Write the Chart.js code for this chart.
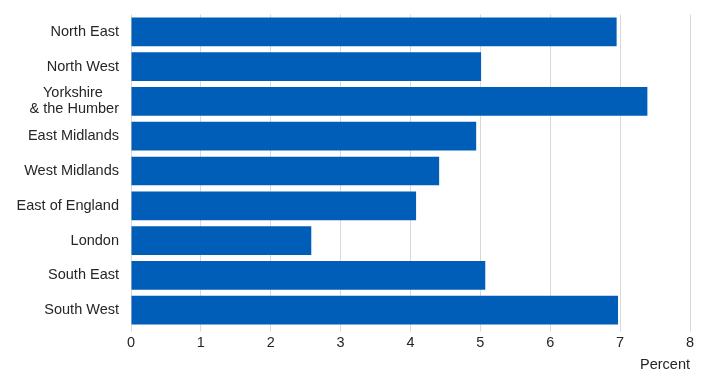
<!DOCTYPE html>
<html>
<head>
<meta charset="utf-8">
<script src="https://cdn.jsdelivr.net/npm/chart.js@4/dist/chart.umd.min.js"></script>
<style>
  html, body { margin: 0; padding: 0; background: #fff; }
  #wrap { width: 708px; height: 384px; position: relative; }
</style>
</head>
<body>
<div id="wrap"><canvas id="chart"></canvas></div>
<script>
// regions, top to bottom
const regions = [
    'North East',
    'North West',
    ['Yorkshire    ', '& the Humber'],
    'East Midlands',
    'West Midlands',
    'East of England',
    'London',
    'South East',
    'South West'
];
const percent = [6.95, 5.01, 7.39, 4.94, 4.41, 4.08, 2.58, 5.07, 6.97];
const xTicks = [0, 1, 2, 3, 4, 5, 6, 7, 8];

const font = { family: 'Arial, "Liberation Sans", sans-serif', size: 14.5 };
const textColor = '#262626';

new Chart(document.getElementById('chart'), {
    type: 'bar',
    data: {
        labels: regions,
        datasets: [{
            label: 'Percent',
            data: percent,
            backgroundColor: '#005EB8',
            barPercentage: 1,
            categoryPercentage: 0.826
        }]
    },
    options: {
        indexAxis: 'y',
        responsive: true,
        maintainAspectRatio: false,
        animation: false,
        layout: { padding: { top: 14.5, right: 18, left: 0, bottom: 0 } },
        plugins: {
            legend: { display: false },
            tooltip: { enabled: false }
        },
        scales: {
            x: {
                min: xTicks[0],
                max: xTicks[xTicks.length - 1],
                afterBuildTicks: (scale) => { scale.ticks = xTicks.map(v => ({ value: v })); },
                afterFit: (scale) => { scale.height = 56.5; },
                border: { display: false },
                grid: { color: '#d9d9d9', lineWidth: 1, tickLength: 4, drawTicks: true },
                ticks: { color: textColor, font: font, padding: 3 },
                title: {
                    display: true,
                    text: 'Percent',
                    align: 'end',
                    color: textColor,
                    font: font,
                    padding: { top: 2, bottom: 10 }
                }
            },
            y: {
                afterFit: (scale) => {
                    scale.width = 131;
                    scale.paddingTop = 0;
                    scale.paddingBottom = 0;
                },
                border: { display: false },
                grid: { display: false, drawTicks: false },
                ticks: {
                    color: textColor,
                    font: Object.assign({ lineHeight: 1.1 }, font),
                    padding: 12,
                    autoSkip: false
                }
            }
        }
    }
});
</script>
</body>
</html>
